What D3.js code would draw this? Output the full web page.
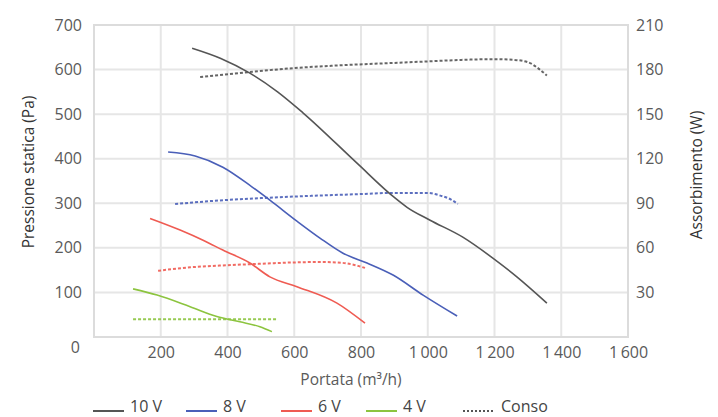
<!DOCTYPE html>
<html><head><meta charset="utf-8">
<script src="https://cdn.jsdelivr.net/npm/d3@7"></script>
<style>body{margin:0;background:#fff}svg{display:block}</style>
</head><body>
<script>
// ---- data ----
const xTicks = [200, 400, 600, 800, 1000, 1200, 1400, 1600];
const yTicks = [0, 100, 200, 300, 400, 500, 600, 700];
const yRTicks = [30, 60, 90, 120, 150, 180, 210];
const seriesNames = ["10 V", "8 V", "6 V", "4 V"];
const seriesColors = ["#555555", "#4a5fb8", "#ef5b52", "#8cc43f"];
// pressure curves [flow m3/h, Pa]
const p10 = [[294,648],[380,625],[467,592],[550,550],[626,503],[788,390],[900,313],[938,291],[1007,262],[1105,224],[1195,177],[1267,135],[1357,76]];
const p8  = [[222,415],[303,406],[386,381],[473,337],[527,307],[608,260],[677,222],[746,188],[818,166],[896,139],[986,94],[1088,47]];
const p6  = [[168,266],[258,240],[330,216],[386,195],[467,166],[527,135],[608,113],[728,76],[812,31]];
const p4  = [[117,108],[189,94],[288,68],[368,46],[437,34],[497,23],[533,12]];
// power consumption curves [flow m3/h, W]
const w10 = [[318,175],[450,178],[600,181],[750,183],[900,184.5],[1000,185.5],[1100,186.5],[1200,187],[1260,186.5],[1300,185],[1330,181],[1357,176]];
const w8  = [[243,89.5],[350,91.5],[500,93.5],[650,95],[800,96.2],[900,97],[1000,97],[1040,95],[1070,92.5],[1090,89.5]];
const w6  = [[192,44.6],[288,46.9],[400,48.3],[500,49.3],[600,50.2],[680,50.5],[740,50],[780,48.5],[812,46.5]];
const w4  = [[117,12],[250,12],[400,12],[551,12]];

const W = 718, H = 417;
const svg = d3.select("body").append("svg").attr("width", W).attr("height", H)
  .style("font-family", "'Open Sans', sans-serif");

const x = d3.scaleLinear().domain([0, 1600]).range([94, 628]);
const y = d3.scaleLinear().domain([0, 700]).range([337, 25]);
const yR = d3.scaleLinear().domain([0, 210]).range([337, 25]);

const grid = "#e6e6e6", txt = "#5a5a5a";

// gridlines
svg.append("g").selectAll("line").data(xTicks.slice(0, -1)).join("line")
  .attr("x1", d => x(d)).attr("x2", d => x(d)).attr("y1", y(0)).attr("y2", y(700))
  .attr("stroke", grid).attr("stroke-width", 2);
svg.append("g").selectAll("line").data(yTicks.slice(1, -1)).join("line")
  .attr("x1", x(0)).attr("x2", x(1600)).attr("y1", d => y(d)).attr("y2", d => y(d))
  .attr("stroke", grid).attr("stroke-width", 2);
svg.append("rect").attr("x", x(0)).attr("y", y(700)).attr("width", x(1600) - x(0)).attr("height", y(0) - y(700))
  .attr("fill", "none").attr("stroke", "#dcdcdc").attr("stroke-width", 2);

// axes (labels only)
const gx = svg.append("g").attr("transform", `translate(0,${y(0)})`)
  .call(d3.axisBottom(x).tickValues(xTicks).tickSize(0).tickPadding(12)
    .tickFormat(d => d3.format(",")(d).replace(",", "\u2009")));
const gy = svg.append("g").attr("transform", `translate(82,0)`)
  .call(d3.axisLeft(y).tickValues(yTicks).tickSize(0).tickPadding(0));
const gyr = svg.append("g").attr("transform", `translate(636,0)`)
  .call(d3.axisRight(yR).tickValues(yRTicks).tickSize(0).tickPadding(0));
[gx, gy, gyr].forEach(g => {
  g.select(".domain").remove();
  g.selectAll("text").attr("fill", txt).style("font-size", "16px").style("font-family", "'Open Sans', sans-serif");
});
gx.selectAll("text").attr("dy", "0.55em");
gy.selectAll(".tick text").filter(d => d === 0).attr("dy", "0.32em").attr("transform", "translate(-2,10)");

// axis titles
svg.append("text").attr("x", x(800) - 10).attr("y", 385).attr("text-anchor", "middle")
  .attr("fill", txt).style("font-size", "15.5px").text("Portata (m³/h)");
svg.append("text").attr("transform", "translate(34,172) rotate(-90)").attr("text-anchor", "middle")
  .attr("fill", "#333").style("font-size", "15.5px").text("Pressione statica (Pa)");
svg.append("text").attr("transform", "translate(702,175) rotate(-90)").attr("text-anchor", "middle")
  .attr("fill", "#333").style("font-size", "15.5px").text("Assorbimento (W)");

// curves
const line = d3.line().x(d => x(d[0])).y(d => y(d[1])).curve(d3.curveMonotoneX);
const lineR = d3.line().x(d => x(d[0])).y(d => yR(d[1])).curve(d3.curveMonotoneX);
const pSeries = [p10, p8, p6, p4];
const wSeries = [w10, w8, w6, w4];
wSeries.forEach((s, i) => {
  svg.append("path").attr("d", lineR(s)).attr("fill", "none")
    .attr("stroke", seriesColors[i]).attr("stroke-width", 2).attr("stroke-dasharray", "3,2").attr("opacity", 0.9);
});
pSeries.forEach((s, i) => {
  svg.append("path").attr("d", line(s)).attr("fill", "none")
    .attr("stroke", seriesColors[i]).attr("stroke-width", 1.6);
});

// legend
const legendX = [93, 186, 281, 366];
seriesNames.forEach((n, i) => {
  svg.append("line").attr("x1", legendX[i]).attr("x2", legendX[i] + 31).attr("y1", 411).attr("y2", 411)
    .attr("stroke", seriesColors[i]).attr("stroke-width", 2);
  svg.append("text").attr("x", legendX[i] + 37).attr("y", 412).attr("fill", "#444")
    .style("font-size", "16px").text(n);
});
svg.append("line").attr("x1", 463).attr("x2", 495).attr("y1", 411).attr("y2", 411)
  .attr("stroke", "#555").attr("stroke-width", 2).attr("stroke-dasharray", "2,2");
svg.append("text").attr("x", 501).attr("y", 412).attr("fill", "#444").style("font-size", "16px").text("Conso");
</script>
</body></html>
